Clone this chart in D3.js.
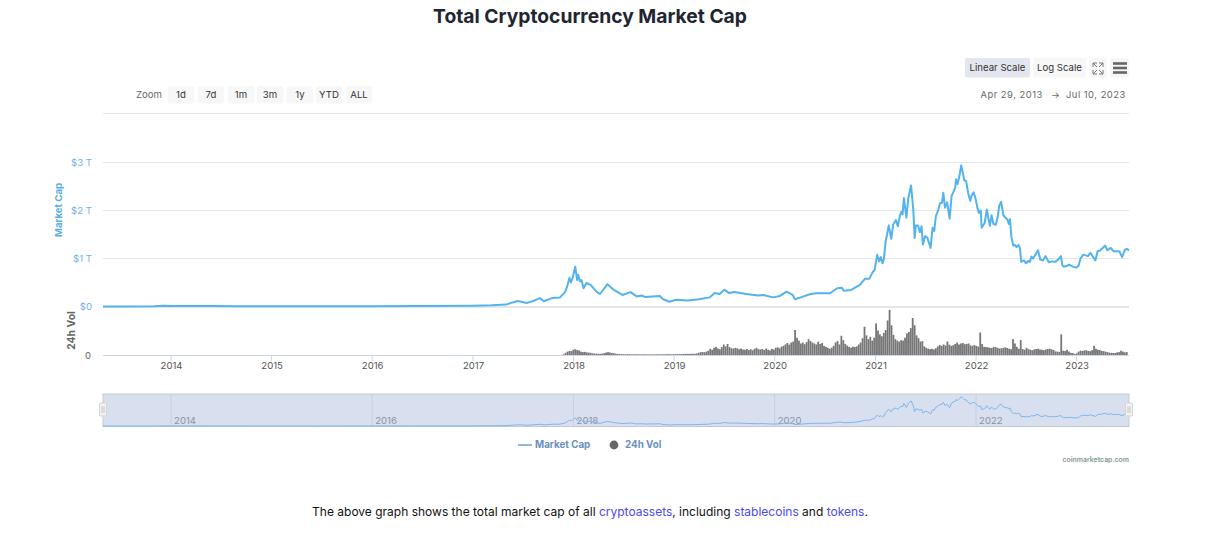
<!DOCTYPE html>
<html><head><meta charset="utf-8">
<script src="https://cdn.jsdelivr.net/npm/d3@7"></script>
<style>
html,body{margin:0;padding:0;background:#fff;width:1230px;height:540px;overflow:hidden}
svg{display:block;font-family:Inter,"Noto Sans",sans-serif}
.axis path,.axis line{display:none}
</style></head><body><svg id="c" width="1230" height="540"></svg>
<script>
const titleText="Total Cryptocurrency Market Cap";
const zoomLabels=["1d","7d","1m","3m","1y","YTD","ALL"];
const marketTicks=[0,1,2,3];
const marketTickLabels=["$0","$1 T","$2 T","$3 T"];
const yearTicks=[2014,2015,2016,2017,2018,2019,2020,2021,2022,2023];
const navYears=[2014,2016,2018,2020,2022];
const domainDates=["2013-04-29","2023-07-10"];

// Market cap, $ trillions
const cap2013to2017=[["2013-04-29",.0015],["2013-08-01",.0016],["2013-11-01",.004],["2013-12-04",.015],["2014-01-05",.011],["2014-03-01",.010],["2014-06-01",.008],["2014-09-01",.007],["2015-01-01",.005],["2015-06-01",.0045],["2016-01-01",.0065],["2016-06-15",.011],["2017-01-01",.018],["2017-03-10",.024],["2017-05-01",.04],["2017-05-25",.085],["2017-06-12",.115],["2017-07-16",.075],["2017-08-05",.11],["2017-09-01",.175],["2017-09-15",.11],["2017-10-15",.175],["2017-11-12",.185],["2017-12-01",.30],["2017-12-10",.44],["2017-12-17",.60],["2017-12-22",.50],["2017-12-28",.58]];
const cap2018=[["2018-01-07",.83],["2018-01-14",.55],["2018-01-18",.66],["2018-01-24",.52],["2018-01-30",.55],["2018-02-06",.38],["2018-02-17",.49],["2018-03-04",.45],["2018-03-25",.31],["2018-04-07",.26],["2018-05-04",.465],["2018-05-26",.35],["2018-06-27",.24],["2018-07-27",.30],["2018-08-18",.21],["2018-09-05",.23],["2018-09-17",.20],["2018-11-10",.22],["2018-11-22",.15],["2018-12-15",.10]];
const cap2019=[["2019-01-08",.14],["2019-02-20",.125],["2019-04-01",.15],["2019-05-10",.19],["2019-05-28",.28],["2019-06-15",.26],["2019-07-02",.35],["2019-07-20",.28],["2019-08-08",.30],["2019-09-20",.26],["2019-11-01",.23],["2019-11-20",.24],["2019-12-26",.19]];
const cap2020=[["2020-01-20",.22],["2020-02-13",.31],["2020-03-06",.24],["2020-03-15",.15],["2020-04-10",.20],["2020-05-10",.26],["2020-06-01",.275],["2020-07-20",.275],["2020-08-15",.38],["2020-09-01",.39],["2020-09-07",.33],["2020-10-05",.345],["2020-11-05",.45],["2020-11-24",.58],["2020-12-10",.58],["2020-12-20",.70],["2020-12-29",.77]];
const cap2021=[["2021-01-07",1.08],["2021-01-14",.94],["2021-01-20",1.03],["2021-01-26",.90],["2021-01-31",.98],["2021-02-07",1.36],["2021-02-12",1.50],["2021-02-18",1.69],["2021-02-27",1.41],["2021-03-06",1.71],["2021-03-16",1.80],["2021-03-23",1.67],["2021-03-30",1.88],["2021-04-04",1.97],["2021-04-09",1.92],["2021-04-14",2.26],["2021-04-23",1.85],["2021-04-30",2.26],["2021-05-10",2.52],["2021-05-18",2.02],["2021-05-23",1.43],["2021-05-27",1.69],["2021-06-04",1.69],["2021-06-11",1.55],["2021-06-17",1.67],["2021-06-22",1.29],["2021-06-30",1.47],["2021-07-08",1.43],["2021-07-20",1.22],["2021-07-27",1.64],["2021-08-02",1.57],["2021-08-08",1.88],["2021-08-17",2.02],["2021-08-23",2.15],["2021-08-30",2.16],["2021-09-04",2.37],["2021-09-10",2.06],["2021-09-18",2.17],["2021-09-27",1.83],["2021-10-04",2.30],["2021-10-17",2.47],["2021-10-20",2.65],["2021-10-26",2.55],["2021-11-03",2.77],["2021-11-08",2.94],["2021-11-14",2.78],["2021-11-19",2.63],["2021-11-26",2.61],["2021-12-03",2.37],["2021-12-11",2.20],["2021-12-15",2.30],["2021-12-23",2.38],["2021-12-30",2.25]];
const cap2022=[["2022-01-06",2.05],["2022-01-11",1.95],["2022-01-18",2.00],["2022-01-21",1.64],["2022-02-01",1.74],["2022-02-09",2.02],["2022-02-14",1.85],["2022-02-20",1.68],["2022-02-26",1.90],["2022-03-05",1.72],["2022-03-13",1.70],["2022-03-20",1.85],["2022-03-26",2.10],["2022-04-02",2.18],["2022-04-10",1.90],["2022-04-18",1.85],["2022-04-24",1.82],["2022-04-30",1.72],["2022-05-04",1.82],["2022-05-09",1.45],["2022-05-16",1.27],["2022-05-22",1.28],["2022-05-28",1.24],["2022-06-04",1.28],["2022-06-09",1.22],["2022-06-14",.93],["2022-06-24",.96],["2022-07-01",.90],["2022-07-09",.95],["2022-07-15",.93],["2022-07-21",1.04],["2022-07-27",1.00],["2022-08-03",1.07],["2022-08-14",1.17],["2022-08-22",.98],["2022-09-01",.96],["2022-09-10",1.05],["2022-09-22",.92],["2022-10-05",.94],["2022-10-15",.93],["2022-10-28",.99],["2022-11-05",1.05],["2022-11-10",.86],["2022-11-15",.83],["2022-11-28",.85],["2022-12-05",.87],["2022-12-18",.83],["2022-12-30",.81]];
const cap2023=[["2023-01-08",.85],["2023-01-15",1.00],["2023-01-25",1.08],["2023-02-11",1.05],["2023-02-20",1.12],["2023-03-10",.96],["2023-03-18",1.15],["2023-03-28",1.17],["2023-04-15",1.27],["2023-04-22",1.17],["2023-05-05",1.22],["2023-05-15",1.15],["2023-06-05",1.15],["2023-06-15",1.03],["2023-06-25",1.18],["2023-07-02",1.20],["2023-07-10",1.17]];

// 24h volume, $ billions, weekly readings
const vol2017=[15,45,70,85,80,110];
const vol2018=[120,105,95,70,60,65,55,50,45,35,30,28,25,25,28,38,50,60,52,42,35,28,22,20,18,18,16,18,16,15,14,14,15,14,13,14,14,13,12,12,13,14,13,14,12,15,14,16,18,15,14,16];
const vol2019=[18,16,18,20,20,22,24,22,25,24,26,30,45,58,62,58,70,90,130,110,150,170,135,120,165,220,180,230,165,140,135,150,140,120,135,115,110,125,105,120,100,130,150,120,115,125,105,135,110,95,130,115];
const vol2020=[150,160,140,175,190,220,250,215,260,280,520,360,300,240,260,225,270,330,290,260,240,220,280,230,250,190,170,150,130,150,190,260,290,220,400,310,230,195,170,150,175,165,180,220,260,350,590,410,330,380,300,360];
const vol2021=[660,510,430,390,460,520,720,940,620,420,330,300,280,310,300,360,450,480,560,770,620,410,350,280,290,180,150,130,120,130,115,140,180,210,190,220,200,280,215,190,205,230,260,220,240,250,225,230,240,200,190,210];
const vol2022=[190,175,470,230,170,165,160,150,145,170,165,150,135,140,150,160,145,130,120,330,240,170,130,310,125,110,150,120,110,100,115,125,130,115,110,100,115,125,130,120,105,75,70,65,430,90,85,110,70,45,40,20];
const vol2023=[35,70,90,85,95,100,85,80,100,190,130,110,105,85,80,70,60,50,45,42,40,55,60,90,70,55,60];
const volStarts=["2017-11-26","2018-01-07","2019-01-06","2020-01-05","2021-01-03","2022-01-02","2023-01-01"];

const capSeries=[].concat(cap2013to2017,cap2018,cap2019,cap2020,cap2021,cap2022,cap2023).map(d=>({date:new Date(d[0]+"T00:00Z"),v:d[1]}));
const volSeries=[];
[vol2017,vol2018,vol2019,vol2020,vol2021,vol2022,vol2023].forEach((arr,k)=>{
  const s=new Date(volStarts[k]+"T00:00Z");
  arr.forEach((v,i)=>volSeries.push({date:d3.utcDay.offset(s,i*7),v}));
});

const svg=d3.select("#c");
const L=103,R=1129;
const x=d3.scaleUtc().domain(domainDates.map(d=>new Date(d+"T00:00Z"))).range([L,R]);
const yCap=d3.scaleLinear().domain([0,3]).range([306.5,162.5]);
const yVol=d3.scaleLinear().domain([0,1000]).range([355,307]);
const yNav=d3.scaleLinear().domain([0,3]).range([426,396]);
const yr=y=>new Date(Date.UTC(y,0,1));

// title
svg.append("text").attr("x",590).attr("y",23).attr("text-anchor","middle").attr("font-size",19.25).attr("font-weight",700).attr("fill","#222531").text(titleText);

// buttons
function btn(x0,y0,w,h,label,fill,size,col){
  svg.append("rect").attr("x",x0).attr("y",y0).attr("width",w).attr("height",h).attr("rx",2).attr("fill",fill);
  if(label)svg.append("text").attr("x",x0+w/2).attr("y",y0+h/2+3.7).attr("text-anchor","middle").attr("font-size",size).attr("fill",col).text(label);
}
btn(965,58,65,19.5,"Linear Scale","#e3e6ef",9.6,"#333");
btn(1033,58,53,19.5,"Log Scale","#f7f7f7",9.6,"#333");
btn(1089,58,18,19.5,"","#f7f7f7");
btn(1110,58,19,19.5,"","#f7f7f7");
svg.append("path").attr("d","M1093 67V63H1097M1093 63L1097 67M1103 67V63H1099M1103 63L1099 67M1093 70V74H1097M1093 74L1097 70M1103 70V74H1099M1103 74L1099 70").attr("fill","none").attr("stroke","#777").attr("stroke-width",1);
[63.5,68,72.5].forEach(yy=>svg.append("rect").attr("x",1113).attr("y",yy-1.3).attr("width",14).attr("height",2.6).attr("fill","#666"));

svg.append("text").attr("x",136).attr("y",98).attr("font-size",9.6).attr("fill","#666").text("Zoom");
const zoomX=[168,198,228,257,287,316,346];
zoomLabels.forEach((l,i)=>btn(zoomX[i],86,26,17.5,l,"#f7f7f7",9.6,"#333"));

svg.append("text").attr("x",980.5).attr("y",98).attr("font-size",9.4).attr("letter-spacing",.5).attr("fill","#666").text("Apr 29, 2013");
svg.append("text").attr("x",1051).attr("y",98).attr("font-size",9.4).attr("fill","#666").text("→");
svg.append("text").attr("x",1066).attr("y",98).attr("font-size",9.4).attr("letter-spacing",.5).attr("fill","#666").text("Jul 10, 2023");

// grid
svg.append("line").attr("x1",L).attr("x2",R).attr("y1",113.5).attr("y2",113.5).attr("stroke","#e6e6e6");
marketTicks.slice(1).forEach(t=>svg.append("line").attr("x1",L).attr("x2",R).attr("y1",yCap(t)).attr("y2",yCap(t)).attr("stroke","#e6e6e6"));
svg.append("line").attr("x1",L).attr("x2",R).attr("y1",307).attr("y2",307).attr("stroke","#e6e6e6").attr("stroke-width",2);

// y axes
const ax=svg.append("g").attr("class","axis").attr("transform",`translate(${L-11},0)`)
 .call(d3.axisLeft(yCap).tickValues(marketTicks).tickFormat((d,i)=>marketTickLabels[i]).tickSize(0).tickPadding(0));
ax.selectAll("text").attr("font-size",9.6).attr("font-family","Inter").attr("fill","#6fb0e8").attr("dy",".32em");
svg.append("text").attr("transform","translate(62,210) rotate(-90)").attr("text-anchor","middle").attr("font-size",9.6).attr("font-weight",700).attr("fill","#5aaee6").text("Market Cap");
svg.append("text").attr("x",91).attr("y",358.5).attr("text-anchor","end").attr("font-size",9.6).attr("fill","#666").text("0");
svg.append("text").attr("transform","translate(75,330.5) rotate(-90)").attr("text-anchor","middle").attr("font-size",10.4).attr("font-weight",700).attr("fill","#666").text("24h Vol");

// volume bars
const barW=1.8;
svg.append("g").selectAll("rect").data(volSeries).join("rect")
 .attr("x",d=>x(d.date)-barW/2).attr("width",barW)
 .attr("y",d=>yVol(d.v)).attr("height",d=>yVol(0)-yVol(d.v))
 .attr("fill","#777");

// x axis
svg.append("line").attr("x1",L).attr("x2",R).attr("y1",355.5).attr("y2",355.5).attr("stroke","#ccd6eb");
const xa=svg.append("g").attr("class","axis").attr("transform","translate(0,355.5)")
 .call(d3.axisBottom(x).tickValues(yearTicks.map(yr)).tickFormat(d3.utcFormat("%Y")).tickSize(0).tickPadding(0));
xa.selectAll("text").attr("font-size",9.6).attr("font-family","Inter").attr("fill","#555").attr("y",7);
yearTicks.forEach(y=>svg.append("line").attr("x1",x(yr(y))).attr("x2",x(yr(y))).attr("y1",355.5).attr("y2",361).attr("stroke","#ccd6eb"));

// market line
const line=d3.line().x(d=>x(d.date)).y(d=>yCap(d.v)).curve(d3.curveLinear);
svg.append("path").datum(capSeries).attr("d",line).attr("fill","none").attr("stroke","#52b3ee").attr("stroke-width",2).attr("stroke-linejoin","round");

// navigator
svg.append("rect").attr("x",L).attr("y",394).attr("width",R-L).attr("height",32.5).attr("fill","#d8dfef").attr("stroke","#c6c9d4").attr("stroke-width",1);
navYears.forEach(y=>{
  svg.append("line").attr("x1",x(yr(y))).attr("x2",x(yr(y))).attr("y1",394).attr("y2",426).attr("stroke","#c9cfdf");
  svg.append("text").attr("x",x(yr(y))+3).attr("y",423.5).attr("font-size",9.6).attr("fill","#8f92a3").text(y);
});
const navLine=d3.line().x(d=>x(d.date)).y(d=>yNav(d.v));
svg.append("path").datum(capSeries).attr("d",navLine).attr("fill","none").attr("stroke","#7db8ea").attr("stroke-width",1);
[L,R].forEach(hx=>{
  svg.append("rect").attr("x",hx-3.5).attr("y",403).attr("width",7).attr("height",13).attr("rx",1).attr("fill","#f2f2f2").attr("stroke","#d5d5d5");
  [-1,1].forEach(o=>svg.append("line").attr("x1",hx+o).attr("x2",hx+o).attr("y1",406).attr("y2",413).attr("stroke","#c4c4c4"));
});

// legend
svg.append("line").attr("x1",518).attr("x2",532).attr("y1",445).attr("y2",445).attr("stroke","#6fa8d8").attr("stroke-width",1.6);
svg.append("text").attr("x",535).attr("y",448).attr("font-size",9.8).attr("font-weight",700).attr("fill","#6b8fbf").text("Market Cap");
svg.append("circle").attr("cx",614).attr("cy",445).attr("r",4.4).attr("fill","#666");
svg.append("text").attr("x",625).attr("y",448).attr("font-size",9.8).attr("font-weight",700).attr("fill","#6b8fbf").text("24h Vol");
svg.append("text").attr("x",1129).attr("y",462).attr("text-anchor","end").attr("font-size",6.9).attr("font-weight",600).attr("fill","#7f9a90").text("coinmarketcap.com");

// caption
const cap=svg.append("text").attr("x",590).attr("y",515.5).attr("text-anchor","middle").attr("font-size",12).attr("fill","#111");
[["The above graph shows the total market cap of all ",0],["cryptoassets",1],[", including ",0],["stablecoins",1],[" and ",0],["tokens",1],[".",0]]
 .forEach(p=>cap.append("tspan").attr("fill",p[1]?"#4a4af0":"#111").text(p[0]));
</script></body></html>
